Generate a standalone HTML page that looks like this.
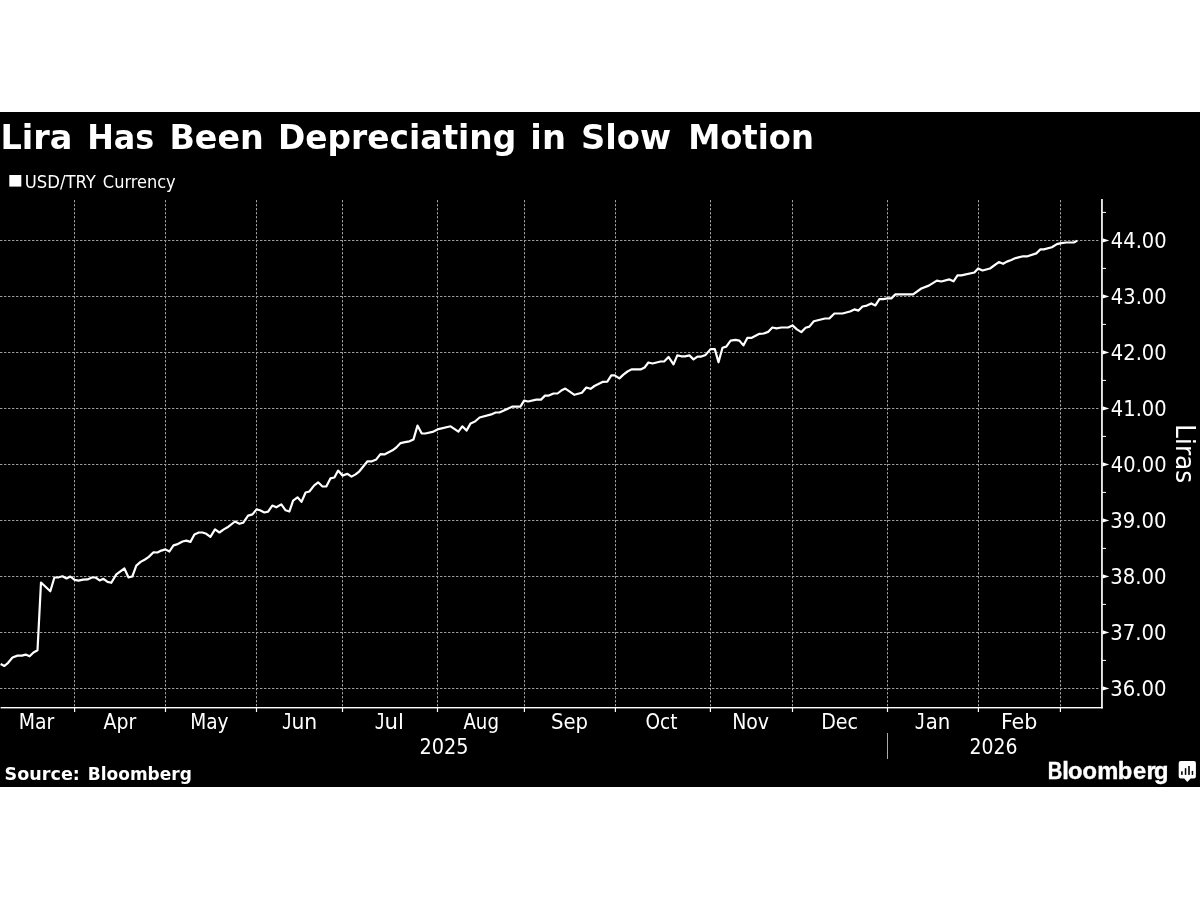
<!DOCTYPE html>
<html lang="en">
<head>
<meta charset="utf-8">
<title>Lira Has Been Depreciating in Slow Motion</title>
<style>
html,body{margin:0;padding:0;background:#fff;}
body{width:1200px;height:900px;overflow:hidden;}
svg{display:block;}
.c{font-family:'DejaVu Sans Condensed','DejaVu Sans','Liberation Sans',sans-serif;font-stretch:condensed;fill:#fff;}
.b{font-family:'DejaVu Sans','Liberation Sans',sans-serif;font-weight:bold;fill:#fff;}
.n{font-family:'DejaVu Sans','Liberation Sans',sans-serif;fill:#fff;}
.l{font-family:'Liberation Sans','DejaVu Sans',sans-serif;font-weight:bold;fill:#fff;}
.j{font-family:'DejaVu Sans Mono','Liberation Mono',monospace;fill:#fff;}
.g{stroke:#9c9c9c;stroke-width:1;stroke-dasharray:2.4 1.6;fill:none;}
</style>
</head>
<body>
<svg width="1200" height="900" viewBox="0 0 1200 900">
<rect x="0" y="0" width="1200" height="900" fill="#ffffff"/>
<rect x="0" y="112" width="1200" height="675" fill="#000000"/>
<text class="b" y="149.20" font-size="34.60" id="title"><tspan x="0.38" textLength="72.02" lengthAdjust="spacingAndGlyphs">Lira</tspan> <tspan x="87.16" textLength="67.01" lengthAdjust="spacingAndGlyphs">Has</tspan> <tspan x="169.38" textLength="94.42" lengthAdjust="spacingAndGlyphs">Been</tspan> <tspan x="277.97" textLength="238.26" lengthAdjust="spacingAndGlyphs">Depreciating</tspan> <tspan x="530.34" textLength="35.60" lengthAdjust="spacingAndGlyphs">in</tspan> <tspan x="580.93" textLength="90.11" lengthAdjust="spacingAndGlyphs">Slow</tspan> <tspan x="688.13" textLength="125.72" lengthAdjust="spacingAndGlyphs">Motion</tspan></text>
<rect x="9.3" y="175" width="12" height="11.6" fill="#fff"/>
<text class="c" y="187.50" font-size="17.40"><tspan x="24.77" textLength="71.14" lengthAdjust="spacingAndGlyphs">USD/TRY</tspan> <tspan x="102.86" textLength="72.84" lengthAdjust="spacingAndGlyphs">Currency</tspan></text>
<g class="g">
<line x1="0" y1="688.5" x2="1100" y2="688.5"/>
<line x1="0" y1="632.5" x2="1100" y2="632.5"/>
<line x1="0" y1="576.5" x2="1100" y2="576.5"/>
<line x1="0" y1="520.5" x2="1100" y2="520.5"/>
<line x1="0" y1="464.5" x2="1100" y2="464.5"/>
<line x1="0" y1="408.5" x2="1100" y2="408.5"/>
<line x1="0" y1="352.5" x2="1100" y2="352.5"/>
<line x1="0" y1="296.5" x2="1100" y2="296.5"/>
<line x1="0" y1="240.5" x2="1100" y2="240.5"/>
<line x1="74.5" y1="200.0" x2="74.5" y2="707.5"/>
<line x1="165.5" y1="200.0" x2="165.5" y2="707.5"/>
<line x1="256.5" y1="200.0" x2="256.5" y2="707.5"/>
<line x1="342.5" y1="200.0" x2="342.5" y2="707.5"/>
<line x1="437.5" y1="200.0" x2="437.5" y2="707.5"/>
<line x1="524.5" y1="200.0" x2="524.5" y2="707.5"/>
<line x1="615.5" y1="200.0" x2="615.5" y2="707.5"/>
<line x1="710.5" y1="200.0" x2="710.5" y2="707.5"/>
<line x1="792.5" y1="200.0" x2="792.5" y2="707.5"/>
<line x1="887.5" y1="200.0" x2="887.5" y2="707.5"/>
<line x1="978.5" y1="200.0" x2="978.5" y2="707.5"/>
<line x1="1060.5" y1="200.0" x2="1060.5" y2="707.5"/>
</g>
<rect x="0.6" y="707" width="1102.2" height="1.4" fill="#fff"/>
<rect x="1101.1" y="199" width="1.7" height="509.4" fill="#fff"/>
<rect x="74.0" y="707" width="1.2" height="5" fill="#fff"/>
<rect x="164.9" y="707" width="1.2" height="5" fill="#fff"/>
<rect x="255.9" y="707" width="1.2" height="5" fill="#fff"/>
<rect x="341.9" y="707" width="1.2" height="5" fill="#fff"/>
<rect x="436.9" y="707" width="1.2" height="5" fill="#fff"/>
<rect x="523.8" y="707" width="1.2" height="5" fill="#fff"/>
<rect x="614.8" y="707" width="1.2" height="5" fill="#fff"/>
<rect x="709.8" y="707" width="1.2" height="5" fill="#fff"/>
<rect x="791.9" y="707" width="1.2" height="5" fill="#fff"/>
<rect x="886.9" y="707" width="1.2" height="5" fill="#fff"/>
<rect x="977.8" y="707" width="1.2" height="5" fill="#fff"/>
<rect x="1059.8" y="707" width="1.2" height="5" fill="#fff"/>
<path d="M1102.5 686.2 L1109.3 688.4 L1102.5 690.6 Z" fill="#fff"/>
<rect x="1102" y="659.9" width="4" height="1" fill="#fff"/>
<path d="M1102.5 630.2 L1109.3 632.4 L1102.5 634.6 Z" fill="#fff"/>
<rect x="1102" y="603.9" width="4" height="1" fill="#fff"/>
<path d="M1102.5 574.2 L1109.3 576.4 L1102.5 578.6 Z" fill="#fff"/>
<rect x="1102" y="547.9" width="4" height="1" fill="#fff"/>
<path d="M1102.5 518.2 L1109.3 520.4 L1102.5 522.6 Z" fill="#fff"/>
<rect x="1102" y="491.9" width="4" height="1" fill="#fff"/>
<path d="M1102.5 462.2 L1109.3 464.4 L1102.5 466.6 Z" fill="#fff"/>
<rect x="1102" y="435.9" width="4" height="1" fill="#fff"/>
<path d="M1102.5 406.2 L1109.3 408.4 L1102.5 410.6 Z" fill="#fff"/>
<rect x="1102" y="379.9" width="4" height="1" fill="#fff"/>
<path d="M1102.5 350.2 L1109.3 352.4 L1102.5 354.6 Z" fill="#fff"/>
<rect x="1102" y="323.9" width="4" height="1" fill="#fff"/>
<path d="M1102.5 294.2 L1109.3 296.4 L1102.5 298.6 Z" fill="#fff"/>
<rect x="1102" y="267.9" width="4" height="1" fill="#fff"/>
<path d="M1102.5 238.2 L1109.3 240.4 L1102.5 242.6 Z" fill="#fff"/>
<rect x="1102" y="211.9" width="4" height="1" fill="#fff"/>
<text class="c" x="1110.28" y="696.10" font-size="20.90" textLength="56.33" lengthAdjust="spacingAndGlyphs">36.00</text>
<text class="c" x="1110.28" y="640.10" font-size="20.90" textLength="56.33" lengthAdjust="spacingAndGlyphs">37.00</text>
<text class="c" x="1110.28" y="584.10" font-size="20.90" textLength="56.33" lengthAdjust="spacingAndGlyphs">38.00</text>
<text class="c" x="1110.28" y="528.10" font-size="20.90" textLength="56.33" lengthAdjust="spacingAndGlyphs">39.00</text>
<text class="c" x="1110.85" y="472.10" font-size="20.90" textLength="55.79" lengthAdjust="spacingAndGlyphs">40.00</text>
<text class="c" x="1110.85" y="416.10" font-size="20.90" textLength="55.79" lengthAdjust="spacingAndGlyphs">41.00</text>
<text class="c" x="1110.85" y="360.10" font-size="20.90" textLength="55.79" lengthAdjust="spacingAndGlyphs">42.00</text>
<text class="c" x="1110.85" y="304.10" font-size="20.90" textLength="55.79" lengthAdjust="spacingAndGlyphs">43.00</text>
<text class="c" x="1110.85" y="248.10" font-size="20.90" textLength="55.79" lengthAdjust="spacingAndGlyphs">44.00</text>
<text class="c" x="18.73" y="728.80" font-size="20.50" textLength="35.61" lengthAdjust="spacingAndGlyphs">Mar</text>
<text class="c" x="103.47" y="728.80" font-size="20.50" textLength="32.73" lengthAdjust="spacingAndGlyphs">Apr</text>
<text class="c" x="190.25" y="728.80" font-size="20.50" textLength="38.35" lengthAdjust="spacingAndGlyphs">May</text>
<text class="c" y="728.80" font-size="20.50"><tspan class="j" x="282.03" textLength="10.13" lengthAdjust="spacingAndGlyphs">J</tspan><tspan x="291.40" textLength="25.81" lengthAdjust="spacingAndGlyphs">un</tspan></text>
<text class="c" y="728.80" font-size="20.50"><tspan class="j" x="374.82" textLength="10.50" lengthAdjust="spacingAndGlyphs">J</tspan><tspan x="384.52" textLength="19.39" lengthAdjust="spacingAndGlyphs">ul</tspan></text>
<text class="c" x="463.44" y="728.80" font-size="20.50" textLength="35.48" lengthAdjust="spacingAndGlyphs">Aug</text>
<text class="c" x="550.97" y="728.80" font-size="20.50" textLength="37.05" lengthAdjust="spacingAndGlyphs">Sep</text>
<text class="c" x="645.44" y="728.80" font-size="20.50" textLength="31.99" lengthAdjust="spacingAndGlyphs">Oct</text>
<text class="c" x="732.15" y="728.80" font-size="20.50" textLength="36.92" lengthAdjust="spacingAndGlyphs">Nov</text>
<text class="c" x="821.20" y="728.80" font-size="20.50" textLength="36.88" lengthAdjust="spacingAndGlyphs">Dec</text>
<text class="c" y="728.80" font-size="20.50"><tspan class="j" x="914.75" textLength="10.83" lengthAdjust="spacingAndGlyphs">J</tspan><tspan x="925.72" textLength="24.58" lengthAdjust="spacingAndGlyphs">an</tspan></text>
<text class="c" x="1000.93" y="728.80" font-size="20.50" textLength="36.43" lengthAdjust="spacingAndGlyphs">Feb</text>
<text class="c" x="419.46" y="754.00" font-size="20.50" textLength="49.17" lengthAdjust="spacingAndGlyphs">2025</text>
<text class="c" x="969.59" y="754.00" font-size="20.50" textLength="47.95" lengthAdjust="spacingAndGlyphs">2026</text>
<rect x="887" y="733" width="1" height="26" fill="#ababab"/>
<text class="c" font-size="25.7" textLength="59.23" lengthAdjust="spacingAndGlyphs" transform="translate(1175.7 424.11) rotate(90)" x="0" y="0">Liras</text>
<path d="M0.6 664.1 L4.4 666.0 L8.1 662.8 L12.5 657.5 L17.5 655.6 L21.9 655.6 L25.6 654.6 L29.6 656.3 L33.5 652.5 L37.5 650.3 L41.0 582.5 L50.3 591.3 L54.4 577.5 L58.8 577.3 L62.5 576.3 L66.5 578.5 L70.3 576.5 L74.6 579.8 L78.5 580.6 L83.1 579.6 L87.5 579.4 L91.9 577.5 L95.6 577.5 L99.6 580.4 L103.5 578.8 L107.5 581.9 L111.3 582.8 L116.3 574.4 L124.4 568.5 L128.4 577.3 L132.3 576.5 L136.3 565.6 L140.6 561.9 L145.0 559.5 L148.8 556.9 L153.5 552.3 L157.5 552.5 L161.3 550.6 L165.4 549.4 L169.4 551.5 L173.5 545.4 L176.9 544.4 L182.5 541.5 L186.3 540.6 L190.4 541.9 L194.4 534.4 L198.8 532.5 L202.5 532.5 L206.3 533.8 L210.4 536.9 L215.0 529.4 L219.4 532.5 L223.8 529.4 L227.5 527.3 L235.0 521.5 L239.4 523.8 L243.1 522.8 L248.1 515.6 L252.5 514.4 L256.5 509.4 L260.0 510.3 L264.4 512.5 L268.1 511.6 L272.3 505.6 L276.3 507.3 L281.3 504.4 L285.6 510.3 L289.4 511.5 L293.1 500.6 L297.5 497.3 L301.5 501.9 L305.6 492.5 L309.4 491.5 L314.0 485.6 L318.1 482.3 L322.5 486.5 L326.3 486.5 L330.4 478.4 L334.4 477.5 L338.1 470.6 L342.5 475.6 L347.5 473.8 L351.5 476.6 L355.6 474.4 L359.4 471.3 L367.5 461.3 L371.9 461.3 L376.3 459.4 L380.4 454.1 L384.4 454.4 L392.5 450.3 L396.3 447.5 L400.6 443.1 L405.0 442.1 L409.4 441.3 L413.5 439.4 L417.5 425.6 L421.6 433.3 L425.3 433.5 L432.5 431.9 L437.5 429.4 L450.6 426.3 L458.4 431.6 L462.3 426.3 L466.5 430.6 L470.6 423.4 L475.0 421.5 L479.6 417.5 L491.3 414.4 L495.6 412.5 L499.4 412.5 L512.5 406.6 L520.4 406.6 L524.1 400.6 L528.1 401.5 L536.3 399.6 L541.0 399.6 L545.0 395.6 L548.8 395.6 L553.5 393.5 L557.5 393.5 L561.3 390.6 L565.3 388.6 L569.4 391.3 L574.4 394.8 L581.9 392.8 L586.3 387.5 L590.6 388.8 L594.4 386.0 L602.5 381.9 L607.3 381.6 L611.3 375.4 L614.6 375.4 L619.4 378.4 L623.4 374.6 L627.5 371.5 L631.5 369.4 L640.6 369.4 L644.6 367.5 L648.4 362.5 L652.5 363.5 L660.6 361.5 L664.4 361.3 L668.5 356.9 L673.5 364.4 L677.3 355.4 L681.3 356.3 L685.0 356.3 L689.4 355.4 L693.5 359.4 L697.5 356.6 L701.3 356.6 L705.6 354.9 L710.6 349.1 L714.8 349.1 L718.5 362.3 L722.5 347.8 L726.3 346.6 L730.6 340.6 L735.6 339.8 L739.4 340.6 L743.4 345.4 L747.3 337.9 L751.3 337.9 L759.4 333.8 L763.8 333.5 L768.1 331.9 L772.3 327.5 L776.5 328.4 L781.3 327.5 L788.1 327.5 L792.5 325.4 L796.9 329.4 L801.3 332.1 L805.6 327.8 L809.4 326.6 L813.8 321.3 L825.0 318.5 L829.4 318.4 L834.4 313.5 L842.5 313.5 L850.0 311.5 L854.4 309.4 L858.5 310.6 L862.5 306.5 L866.9 305.6 L871.3 303.4 L875.4 305.4 L879.4 299.1 L883.1 299.1 L887.5 298.4 L891.3 298.4 L895.4 294.4 L913.1 294.4 L921.3 288.5 L928.8 285.6 L936.9 280.6 L941.3 281.5 L949.4 279.4 L953.5 281.3 L957.5 275.4 L961.3 275.4 L974.4 272.5 L978.1 268.4 L982.5 270.5 L990.0 268.5 L998.8 262.1 L1003.1 263.8 L1006.9 261.6 L1011.3 260.0 L1015.6 258.1 L1023.1 256.3 L1027.5 256.3 L1036.3 253.4 L1040.4 249.4 L1043.8 249.4 L1051.9 247.3 L1056.9 244.1 L1061.3 243.1 L1066.3 242.5 L1073.8 242.5 L1077.3 240.6" fill="none" stroke="#fff" stroke-width="2.2" stroke-linejoin="round" stroke-linecap="butt"/>
<text class="b" y="779.80" font-size="17.10"><tspan x="4.61" textLength="75.23" lengthAdjust="spacingAndGlyphs">Source:</tspan> <tspan x="87.78" textLength="104.04" lengthAdjust="spacingAndGlyphs">Bloomberg</tspan></text>
<text class="l" y="778.90" font-size="23.70" stroke="#fff" stroke-width="0.4"><tspan x="1047.65" textLength="14.55" lengthAdjust="spacingAndGlyphs">B</tspan><tspan x="1062.3 1067.9 1082.6 1097.3 1117.8 1133.1 1146.4 1154.0">loomberg</tspan></text>
<path d="M1180.7 761.1 H1193.9 Q1195.9 761.1 1195.9 763.1 V776.4 Q1195.9 778.4 1193.9 778.4 H1190.7 L1187.3 782 L1184.2 778.4 H1180.7 Q1178.7 778.4 1178.7 776.4 V763.1 Q1178.7 761.1 1180.7 761.1 Z" fill="#fff"/>
<rect x="1181.1" y="771.3" width="1.6" height="3.6" fill="#000"/>
<rect x="1184.8" y="768.2" width="1.5" height="6.7" fill="#000"/>
<rect x="1188.2" y="766.0" width="1.6" height="8.9" fill="#000"/>
<rect x="1191.7" y="770.9" width="1.5" height="4.0" fill="#000"/>
</svg>
</body>
</html>
